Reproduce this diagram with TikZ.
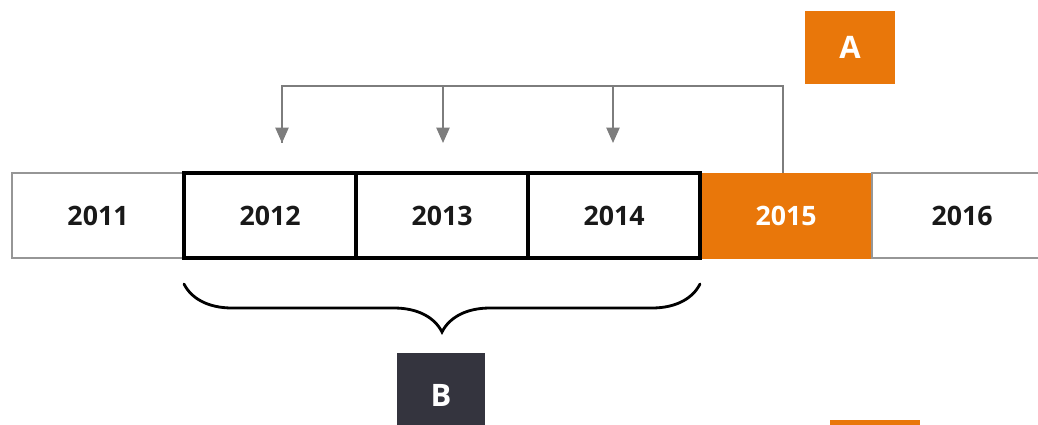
\documentclass[tikz,border=0pt]{standalone}
\usepackage{fontspec}
\setsansfont{Open Sans}
\usepackage{tikz}
\usetikzlibrary{positioning}
\usetikzlibrary{calc}
\usetikzlibrary{arrows.meta}
\usetikzlibrary{decorations.pathreplacing}
\pgfdeclarelayer{nodelayer}
\pgfdeclarelayer{edgelayer}
\pgfsetlayers{edgelayer,nodelayer,main}
\definecolor{yearorange}{RGB}{233,119,10}
\definecolor{labeldark}{RGB}{52,52,62}
\definecolor{linkgray}{RGB}{125,125,125}
\definecolor{rimgray}{RGB}{150,150,150}
\tikzset{year/.style={inner sep=0pt, minimum width=4.3cm, minimum height=2.125cm,
text=black!90, font=\sffamily\bfseries\fontsize{19}{22}\selectfont}}
\tikzset{plain/.style={year, draw=rimgray, line width=0.8pt, fill=white}}
\tikzset{held/.style={year, draw=black, line width=2.6pt, fill=white}}
\tikzset{hot/.style={year, draw=yearorange, fill=yearorange, text=white}}
\tikzset{tag/.style={inner sep=0pt, minimum width=2.25cm, minimum height=1.8cm, text=white,
font=\sffamily\bfseries\fontsize{22}{24}\selectfont}}
\tikzset{link/.style={draw=linkgray, line width=1.1pt}}
\tikzstyle{none}=[inner sep=0pt]

\begin{document}
\begin{tikzpicture}[x=0.025cm, y=-0.025cm]
        \useasboundingbox (0, 0) rectangle (1038, 425);
        \begin{pgfonlayer}{nodelayer}
            \node [style=plain] (0) at (98, 215.5) {2011};
            \node [style=hot, minimum width=4.3cm] (4) at (786, 215.5) {2015};
            \node [style=plain, minimum width=4.5cm] (5) at (962, 215.5) {2016};
            \node [style=held] (1) at (270, 215.5) {2012};
            \node [style=held] (2) at (442, 215.5) {2013};
            \node [style=held] (3) at (614, 215.5) {2014};
            \node [style=tag, fill=yearorange] (6) at (850, 47.5) {A};
            \node [style=tag, fill=labeldark, minimum width=2.2cm, minimum height=2.1cm] (7) at (441, 395) {B};
            \node [style=tag, fill=yearorange, minimum height=0.6cm] (8) at (875, 432) {};
            \node [style=none] (9) at (282, 86) {};
            \node [style=none] (10) at (443, 86) {};
            \node [style=none] (11) at (613, 86) {};
            \node [style=none] (12) at (783, 86) {};
            \node [style=none] (13) at (282, 143) {};
            \node [style=none] (14) at (443, 143) {};
            \node [style=none] (15) at (613, 143) {};
            \node [style=none] (16) at (184, 284) {};
            \node [style=none] (17) at (700, 284) {};
        \end{pgfonlayer}
        \begin{pgfonlayer}{edgelayer}
            \draw [link] (13.center) to (9.center) to (12.center) to (4.north -| 12);
            \draw [link, -{Triangle[width=9.5pt, length=11pt]}] (9.center) to (13.center);
            \draw [link, -{Triangle[width=9.5pt, length=11pt]}] (10.center) to (14.center);
            \draw [link, -{Triangle[width=9.5pt, length=11pt]}] (11.center) to (15.center);
        \end{pgfonlayer}
        \draw [line width=2pt, line cap=round, decorate,
            decoration={brace, mirror, amplitude=1.2cm}] (16.center) to (17.center);
    \end{tikzpicture}
\end{document}
